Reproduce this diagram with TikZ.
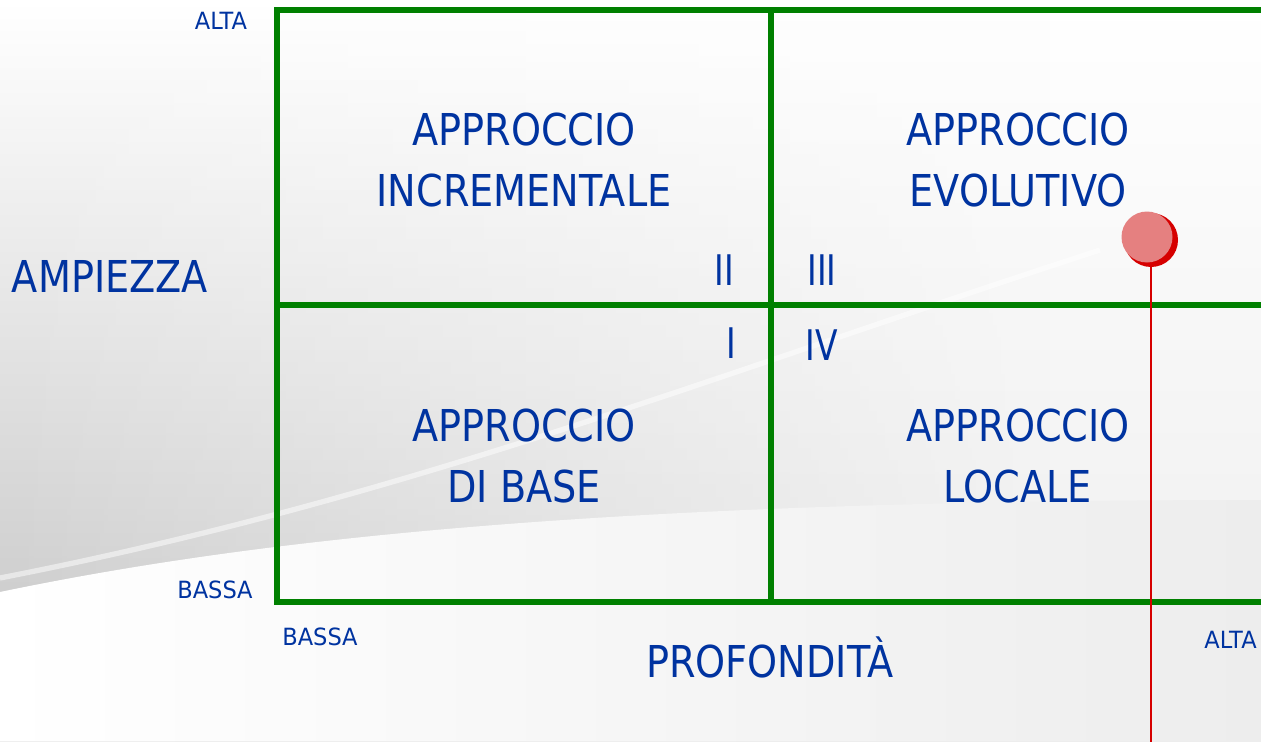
\documentclass[tikz,border=0pt]{standalone}
\usepackage{fontspec}
\setmainfont{DejaVu Sans}
\newfontfamily\quadfont[FakeStretch=0.87]{DejaVu Sans}
\newfontfamily\labelfont[FakeStretch=0.95]{DejaVu Sans}
\newfontfamily\numfont[FakeStretch=0.78]{DejaVu Sans}
\usetikzlibrary{positioning,fadings}
\definecolor{gridgreen}{RGB}{0,128,0}
\definecolor{textblue}{RGB}{0,51,160}
\definecolor{pinlight}{RGB}{229,128,128}
\definecolor{pindark}{RGB}{214,0,0}
\definecolor{bggray}{RGB}{206,206,206}
\definecolor{bglight}{RGB}{237,237,237}
\tikzfading[name=faderight, left color=transparent!0, right color=transparent!100]
\tikzset{
    quadtext/.style={
        text=textblue,
        align=center,
        inner sep=0pt,
        font=\quadfont\fontsize{25}{34.5}\selectfont
    },
    bigaxis/.style={
        text=textblue,
        inner sep=0pt,
        font=\quadfont\fontsize{25}{30}\selectfont
    },
    smallaxis/.style={
        text=textblue,
        inner sep=0pt,
        font=\labelfont\fontsize{13.5}{16}\selectfont
    },
    romnum/.style={
        text=textblue,
        inner sep=0pt,
        font=\numfont\fontsize{24}{28}\selectfont
    },
    gridline/.style={
        draw=gridgreen,
        line width=3.4pt
    }
}

\begin{document}
\begin{tikzpicture}[x=0.02cm, y=-0.02cm]
    \clip (0,0) rectangle (1261,741);

    % background
    \shade[top color=white, bottom color=bglight] (0,0) rectangle (1261,741);
    \shade[top color=white, bottom color=bggray, path fading=faderight]
        (0,0) rectangle (1050,600);
    \shade[left color=white, right color=bglight]
        (0,592) .. controls (250,540) and (600,500) .. (1261,500)
        -- (1261,741) -- (0,741) -- cycle;
    \draw[white, line width=3pt, opacity=0.5]
        (0,578) .. controls (400,500) and (700,380) .. (1100,250);

    % grid
    \coordinate (TL) at (277,10);
    \coordinate (TM) at (771,10);
    \coordinate (TR) at (1275,10);
    \coordinate (ML) at (277,305);
    \coordinate (MR) at (1275,305);
    \coordinate (BL) at (277,602);
    \coordinate (BM) at (771,602);
    \coordinate (BR) at (1275,602);
    \draw[gridline] (TR) -- (TL) -- (BL) -- (BR);
    \draw[gridline] (ML) -- (MR);
    \draw[gridline] (TM) -- (BM);

    % quadrant labels
    \node[quadtext] (incr) at (524,160) {APPROCCIO\\INCREMENTALE};
    \node[quadtext] (evol) at (1018,160) {APPROCCIO\\EVOLUTIVO};
    \node[quadtext] (base) at (524,456) {APPROCCIO\\DI BASE};
    \node[quadtext] (loc) at (1018,456) {APPROCCIO\\LOCALE};

    \node[romnum] (nII) at (724,270) {II};
    \node[romnum] (nIII) at (822,270) {III};
    \node[romnum] (nI) at (731,343) {I};
    \node[romnum] (nIV) at (822,345) {IV};

    % axes
    \node[bigaxis] (ampiezza) at (110,276) {AMPIEZZA};
    \node[bigaxis] (profondita) at (770,657) {PROFONDITÀ};
    \node[smallaxis] (altaY) at (221,21) {ALTA};
    \node[smallaxis] (bassaY) at (215,590) {BASSA};
    \node[smallaxis] (bassaX) at (320,637) {BASSA};
    \node[smallaxis, anchor=west] (altaX) at (1204,640) {ALTA};

    % pin
    \node[circle, fill=pindark, minimum size=1.08cm, inner sep=0pt] (pinshade) at (1151,240) {};
    \node[circle, fill=pinlight, minimum size=1.02cm, inner sep=0pt] (pin) at (1147,237) {};
    \coordinate (pinfoot) at (1151,745);
    \draw[pindark, line width=1.2pt] (pinshade.south) -- (pinfoot);
\end{tikzpicture}
\end{document}
